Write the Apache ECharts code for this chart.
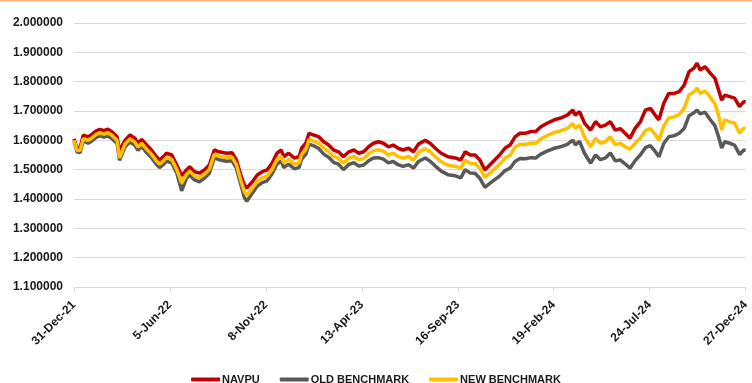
<!DOCTYPE html>
<html>
<head>
<meta charset="utf-8">
<script src="https://cdn.jsdelivr.net/npm/echarts@6/dist/echarts.min.js"></script>
<style>
  html, body, #main { width: 752px; height: 383px; margin: 0; background: #fff; }
</style>
</head>
<body>
<div id="main"></div>
<script>
// days since 31-Dec-21
var days = [0,5,10,15,23,29,36,42,49,55,61,70,74,83,91,99,104,110,118,126,134,139,146,150,159,167,175,183,188,196,204,212,220,228,236,248,257,264,272,277,281,290,298,306,314,322,330,337,341,349,358,366,370,377,382,390,398,406,414,422,430,438,447,455,463,471,479,487,495,503,511,519,527,535,544,552,560,571,579,587,597,608,620,629,636,644,652,660,668,676,684,692,701,709,717,725,734,743,751,759,770,781,791,802,811,815,822,830,840,848,856,864,872,880,888,896,904,912,921,929,937,945,951,959,967,976,984,992,1000,1008,1013,1018,1026,1034,1042,1048,1053,1058,1066,1074,1082,1089,1092];

var navpu = [1.605,1.572,1.575,1.618,1.612,1.620,1.632,1.637,1.633,1.638,1.630,1.612,1.565,1.600,1.618,1.607,1.590,1.603,1.584,1.567,1.544,1.533,1.545,1.556,1.550,1.516,1.480,1.499,1.510,1.493,1.488,1.499,1.516,1.567,1.561,1.556,1.558,1.533,1.476,1.448,1.437,1.459,1.482,1.493,1.499,1.522,1.556,1.567,1.544,1.556,1.540,1.544,1.573,1.590,1.624,1.618,1.612,1.595,1.584,1.567,1.561,1.544,1.561,1.567,1.556,1.561,1.578,1.590,1.595,1.590,1.578,1.584,1.573,1.567,1.573,1.561,1.587,1.600,1.590,1.574,1.556,1.544,1.540,1.533,1.561,1.550,1.550,1.533,1.499,1.516,1.533,1.550,1.574,1.584,1.612,1.624,1.624,1.630,1.630,1.646,1.659,1.670,1.676,1.686,1.703,1.686,1.698,1.659,1.635,1.664,1.646,1.652,1.664,1.635,1.640,1.624,1.607,1.640,1.664,1.703,1.709,1.686,1.670,1.727,1.760,1.760,1.766,1.788,1.834,1.846,1.863,1.840,1.851,1.830,1.812,1.772,1.737,1.754,1.749,1.744,1.715,1.732,1.730];

var oldBenchmark = [1.598,1.560,1.558,1.598,1.590,1.598,1.610,1.615,1.611,1.615,1.607,1.589,1.532,1.578,1.594,1.583,1.566,1.579,1.558,1.541,1.518,1.507,1.519,1.529,1.523,1.489,1.428,1.471,1.482,1.465,1.458,1.471,1.488,1.540,1.534,1.529,1.530,1.505,1.443,1.405,1.392,1.420,1.444,1.456,1.462,1.485,1.519,1.530,1.507,1.519,1.503,1.507,1.536,1.553,1.587,1.581,1.572,1.553,1.542,1.525,1.519,1.500,1.518,1.524,1.512,1.516,1.530,1.540,1.541,1.536,1.523,1.528,1.517,1.511,1.517,1.505,1.528,1.540,1.529,1.513,1.495,1.483,1.479,1.472,1.500,1.489,1.488,1.470,1.440,1.453,1.466,1.478,1.497,1.505,1.528,1.538,1.537,1.541,1.540,1.553,1.564,1.573,1.578,1.586,1.601,1.585,1.596,1.556,1.522,1.550,1.534,1.540,1.557,1.530,1.533,1.520,1.505,1.530,1.551,1.575,1.582,1.562,1.544,1.590,1.612,1.616,1.624,1.640,1.684,1.694,1.703,1.690,1.696,1.672,1.650,1.612,1.574,1.595,1.590,1.584,1.552,1.567,1.566];

var newBenchmark = [1.600,1.565,1.566,1.606,1.600,1.608,1.620,1.625,1.621,1.626,1.618,1.600,1.540,1.588,1.605,1.594,1.577,1.590,1.570,1.553,1.530,1.519,1.531,1.541,1.535,1.501,1.455,1.484,1.495,1.478,1.473,1.484,1.501,1.552,1.546,1.541,1.543,1.518,1.458,1.425,1.412,1.437,1.460,1.472,1.478,1.501,1.535,1.546,1.523,1.535,1.519,1.523,1.552,1.569,1.603,1.597,1.590,1.573,1.562,1.545,1.539,1.522,1.539,1.545,1.534,1.538,1.554,1.565,1.568,1.563,1.550,1.556,1.545,1.539,1.545,1.533,1.559,1.571,1.561,1.545,1.527,1.515,1.511,1.505,1.532,1.521,1.521,1.504,1.474,1.488,1.503,1.518,1.540,1.549,1.576,1.587,1.586,1.591,1.590,1.605,1.617,1.627,1.632,1.641,1.657,1.641,1.652,1.612,1.578,1.607,1.590,1.596,1.612,1.585,1.590,1.578,1.570,1.590,1.608,1.633,1.640,1.620,1.600,1.650,1.676,1.680,1.688,1.709,1.755,1.765,1.778,1.760,1.768,1.749,1.725,1.686,1.635,1.670,1.663,1.659,1.625,1.641,1.640];

var tickLabels = ['31-Dec-21','5-Jun-22','8-Nov-22','13-Apr-23','16-Sep-23','19-Feb-24','24-Jul-24','27-Dec-24'];

function pairs(vals) {
  return days.map(function (d, i) { return [d, vals[i]]; });
}

var font = 'Arial, "Liberation Sans", sans-serif';
var chart = echarts.init(document.getElementById('main'));

chart.setOption({
  animation: false,
  backgroundColor: '#fff',
  graphic: [{
    type: 'rect',
    shape: { x: 0, y: 0, width: 752, height: 1.5 },
    style: { fill: '#F4B183' }
  }],
  grid: { left: 74, right: 3, top: 23, bottom: 96 },
  legend: {
    bottom: -7,
    left: 'center',
    itemGap: 20,
    itemWidth: 29,
    itemHeight: 4,
    icon: 'roundRect',
    textStyle: { fontFamily: font, fontSize: 11, fontWeight: 'bold', color: '#1a1a1a', padding: [0, 0, 0, -3] },
    data: ['NAVPU', 'OLD BENCHMARK', 'NEW BENCHMARK']
  },
  xAxis: {
    type: 'value',
    min: 0,
    max: 1092,
    interval: 156,
    splitLine: { show: false },
    axisLine: { lineStyle: { color: '#d9d9d9', width: 1 } },
    axisTick: { show: true, length: 4, lineStyle: { color: '#d9d9d9' } },
    axisLabel: {
      rotate: 45,
      margin: 16,
      fontFamily: font,
      fontSize: 12,
      fontWeight: 'bold',
      color: '#1a1a1a',
      showMinLabel: true,
      showMaxLabel: true,
      formatter: function (v) { return tickLabels[Math.round(v / 156)] || ''; }
    }
  },
  yAxis: {
    type: 'value',
    min: 1.1,
    max: 2.0,
    interval: 0.1,
    axisLine: { show: false },
    axisTick: { show: false },
    splitLine: { lineStyle: { color: '#d9d9d9', width: 1.2 } },
    axisLabel: {
      margin: 11,
      fontFamily: font,
      fontSize: 12,
      fontWeight: 'bold',
      color: '#1a1a1a',
      formatter: function (v) { return v.toFixed(6); }
    }
  },
  series: [
    { name: 'NAVPU', type: 'line', data: pairs(navpu), showSymbol: false, symbol: 'none',
      lineStyle: { color: '#C00000', width: 3.5 }, itemStyle: { color: '#C00000' } },
    { name: 'OLD BENCHMARK', type: 'line', data: pairs(oldBenchmark), showSymbol: false, symbol: 'none',
      lineStyle: { color: '#595959', width: 3.5 }, itemStyle: { color: '#595959' } },
    { name: 'NEW BENCHMARK', type: 'line', data: pairs(newBenchmark), showSymbol: false, symbol: 'none',
      lineStyle: { color: '#FFC000', width: 3.5 }, itemStyle: { color: '#FFC000' } }
  ]
});
</script>
</body>
</html>
